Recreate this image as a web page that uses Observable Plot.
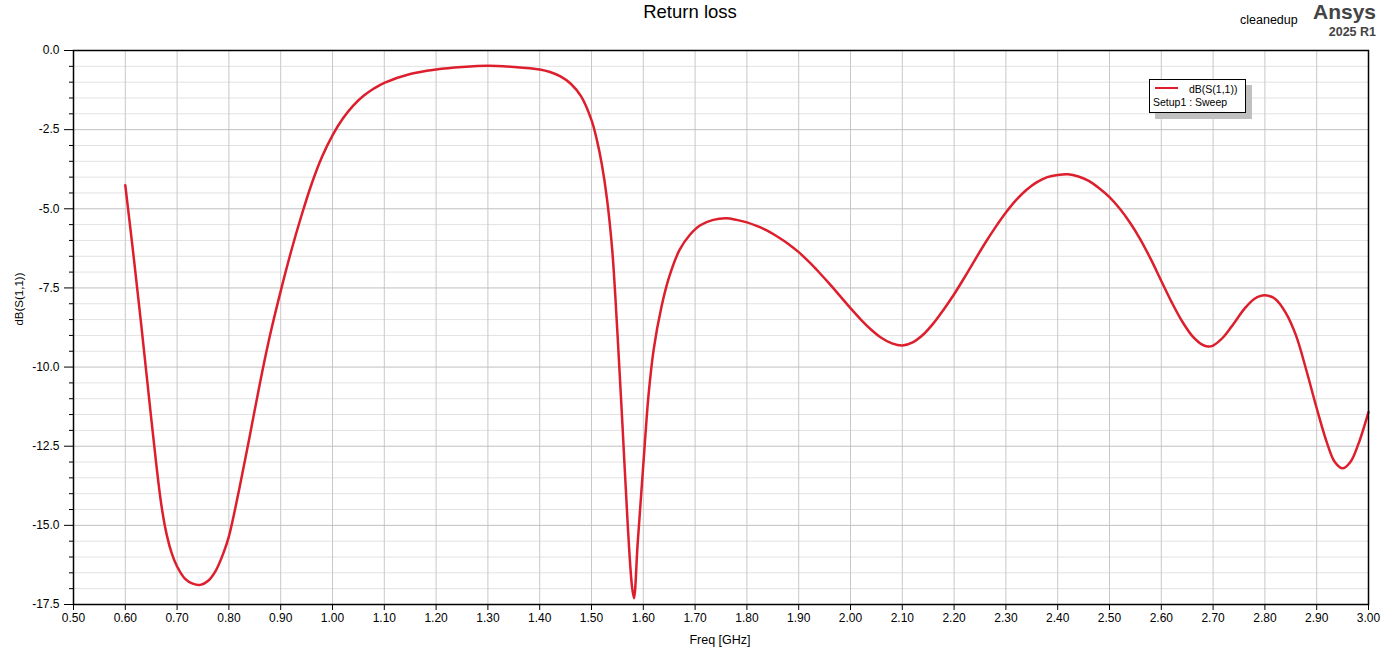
<!DOCTYPE html>
<html><head><meta charset="utf-8">
<script src="https://cdn.jsdelivr.net/npm/d3@7"></script>
<script src="https://cdn.jsdelivr.net/npm/@observablehq/plot@0.6"></script>
<style>
body{margin:0;background:#fff;font-family:"Liberation Sans",Arial,sans-serif;}
#wrap{position:relative;width:1389px;height:651px;overflow:hidden;background:#fff}
.abs{position:absolute;white-space:nowrap;line-height:1;color:#000}
</style></head><body><div id="wrap"></div>
<script>
// Frequency sweep (GHz) and return loss dB(S(1,1))
const freq = [0.600,0.615,0.630,0.645,0.660,0.670,0.680,0.690,0.700,0.715,0.730,0.745,0.760,0.775,0.790,0.800,0.820,0.840,0.860,0.880,0.900,0.920,0.940,0.960,0.980,1.000,1.020,1.040,1.060,1.080,1.100,1.150,1.200,1.250,1.300,1.350,1.400,1.420,1.440,1.460,1.480,1.500,1.510,1.520,1.530,1.540,1.550,1.560,1.570,1.578,1.582,1.589,1.596,1.603,1.610,1.620,1.635,1.650,1.670,1.690,1.710,1.735,1.760,1.780,1.800,1.820,1.840,1.860,1.880,1.900,1.920,1.940,1.960,1.980,2.000,2.020,2.040,2.060,2.080,2.100,2.120,2.140,2.160,2.180,2.200,2.220,2.240,2.260,2.280,2.300,2.320,2.340,2.360,2.380,2.400,2.420,2.440,2.460,2.480,2.500,2.520,2.540,2.560,2.580,2.600,2.620,2.640,2.660,2.680,2.690,2.700,2.720,2.740,2.760,2.780,2.800,2.820,2.840,2.860,2.880,2.900,2.920,2.935,2.950,2.965,2.980,3.000];
const s11 = [-4.26,-6.35,-8.55,-10.85,-13.1,-14.4,-15.3,-15.9,-16.3,-16.68,-16.84,-16.88,-16.75,-16.42,-15.85,-15.35,-13.85,-12.2,-10.5,-8.95,-7.6,-6.35,-5.22,-4.2,-3.35,-2.68,-2.15,-1.74,-1.43,-1.2,-1.02,-0.74,-0.6,-0.52,-0.48,-0.52,-0.6,-0.68,-0.82,-1.05,-1.45,-2.2,-2.8,-3.6,-4.7,-6.3,-8.9,-11.9,-15.0,-16.9,-17.3,-15.6,-14.0,-12.4,-10.9,-9.45,-8.1,-7.15,-6.3,-5.82,-5.52,-5.35,-5.30,-5.35,-5.43,-5.55,-5.7,-5.89,-6.11,-6.37,-6.68,-7.02,-7.38,-7.76,-8.14,-8.5,-8.82,-9.08,-9.25,-9.32,-9.22,-8.98,-8.62,-8.18,-7.7,-7.17,-6.62,-6.08,-5.58,-5.12,-4.72,-4.4,-4.16,-4.0,-3.93,-3.91,-3.98,-4.12,-4.35,-4.63,-5.0,-5.45,-5.98,-6.6,-7.28,-7.95,-8.55,-9.02,-9.3,-9.35,-9.32,-9.05,-8.62,-8.17,-7.84,-7.73,-7.85,-8.28,-9.0,-10.1,-11.3,-12.4,-13.0,-13.2,-13.0,-12.45,-11.42];

const xTicks = [0.50,0.60,0.70,0.80,0.90,1.00,1.10,1.20,1.30,1.40,1.50,1.60,1.70,1.80,1.90,2.00,2.10,2.20,2.30,2.40,2.50,2.60,2.70,2.80,2.90,3.00];
const yMajor = [-17.5,-15.0,-12.5,-10.0,-7.5,-5.0,-2.5,0.0];
const yMinor = [-17.5,-17,-16.5,-16,-15.5,-15,-14.5,-14,-13.5,-13,-12.5,-12,-11.5,-11,-10.5,-10,-9.5,-9,-8.5,-8,-7.5,-7,-6.5,-6,-5.5,-5,-4.5,-4,-3.5,-3,-2.5,-2,-1.5,-1,-0.5,0];

const titleText = "Return loss";
const xLabel = "Freq [GHz]";
const yLabel = "dB(S(1,1))";
const seriesName = "dB(S(1,1))";
const setupName = "Setup1 : Sweep";

const data = freq.map((f, i) => ({f, v: s11[i]}));
const minorOnly = yMinor.filter(v => !yMajor.includes(v));
const innerX = xTicks.slice(1, -1);
const innerMajor = yMajor.slice(1, -1);

const chart = Plot.plot({
  width: 1389, height: 651,
  marginLeft: 73, marginRight: 21, marginTop: 50, marginBottom: 47,
  style: {fontFamily: "'Liberation Sans', Arial, sans-serif", fontSize: "12px", background: "white", color: "black"},
  x: {domain: [0.5, 3.0]},
  y: {domain: [-17.5, 0]},
  marks: [
    Plot.ruleY(minorOnly, {y: d => d, stroke: "#e2e2e2", strokeWidth: 1}),
    Plot.ruleX(innerX, {x: d => d, stroke: "#c8c8c8", strokeWidth: 1}),
    Plot.ruleY(innerMajor, {y: d => d, stroke: "#c0c0c0", strokeWidth: 1}),
    Plot.line(data, {x: "f", y: "v", stroke: "#dd1e2c", strokeWidth: 2.5, curve: "catmull-rom"}),
    Plot.frame({stroke: "black", strokeWidth: 1.5}),
    Plot.axisX({ticks: xTicks, tickFormat: d => d.toFixed(2), tickSize: 6, tickPadding: 3, fontSize: 12, label: null, stroke: "black"}),
    Plot.axisY({ticks: yMajor, tickFormat: d => d.toFixed(1), tickSize: 9, tickPadding: 5, fontSize: 12, label: null, stroke: "black"}),
    Plot.axisY({ticks: minorOnly, tickSize: 4, fill: "none", label: null, stroke: "black"})
  ]
});

const wrap = document.getElementById("wrap");
wrap.appendChild(chart);

function addText(txt, css) {
  const d = document.createElement("div");
  d.className = "abs";
  d.textContent = txt;
  Object.assign(d.style, css);
  wrap.appendChild(d);
  return d;
}
addText(titleText, {left: "690px", top: "3px", fontSize: "18.5px", transform: "translateX(-50%)"});
addText("cleanedup", {left: "1240px", top: "13.5px", fontSize: "12.5px"});
addText("Ansys", {right: "13px", top: "1px", fontSize: "21px", fontWeight: "bold", color: "#444"});
addText("2025 R1", {right: "13px", top: "26px", fontSize: "12.5px", fontWeight: "bold", color: "#444"});
addText(xLabel, {left: "720px", top: "634px", fontSize: "12.5px", transform: "translateX(-50%)"});
addText(yLabel, {left: "20px", top: "299px", fontSize: "11.5px", transform: "translate(-50%,-50%) rotate(-90deg)"});

// legend box
const box = document.createElement("div");
Object.assign(box.style, {position: "absolute", left: "1149px", top: "79px", width: "95px", height: "32px",
  border: "1px solid #000", background: "#fff", boxShadow: "6px 6px 0 #c0c0c0"});
wrap.appendChild(box);
const sw = document.createElement("div");
Object.assign(sw.style, {position: "absolute", left: "1155px", top: "87px", width: "23px", height: "2px", background: "#dd1e2c"});
wrap.appendChild(sw);
addText(seriesName, {left: "1189px", top: "83.5px", fontSize: "10.5px"});
addText(setupName, {left: "1153px", top: "97px", fontSize: "10.5px"});
</script>
</body></html>
